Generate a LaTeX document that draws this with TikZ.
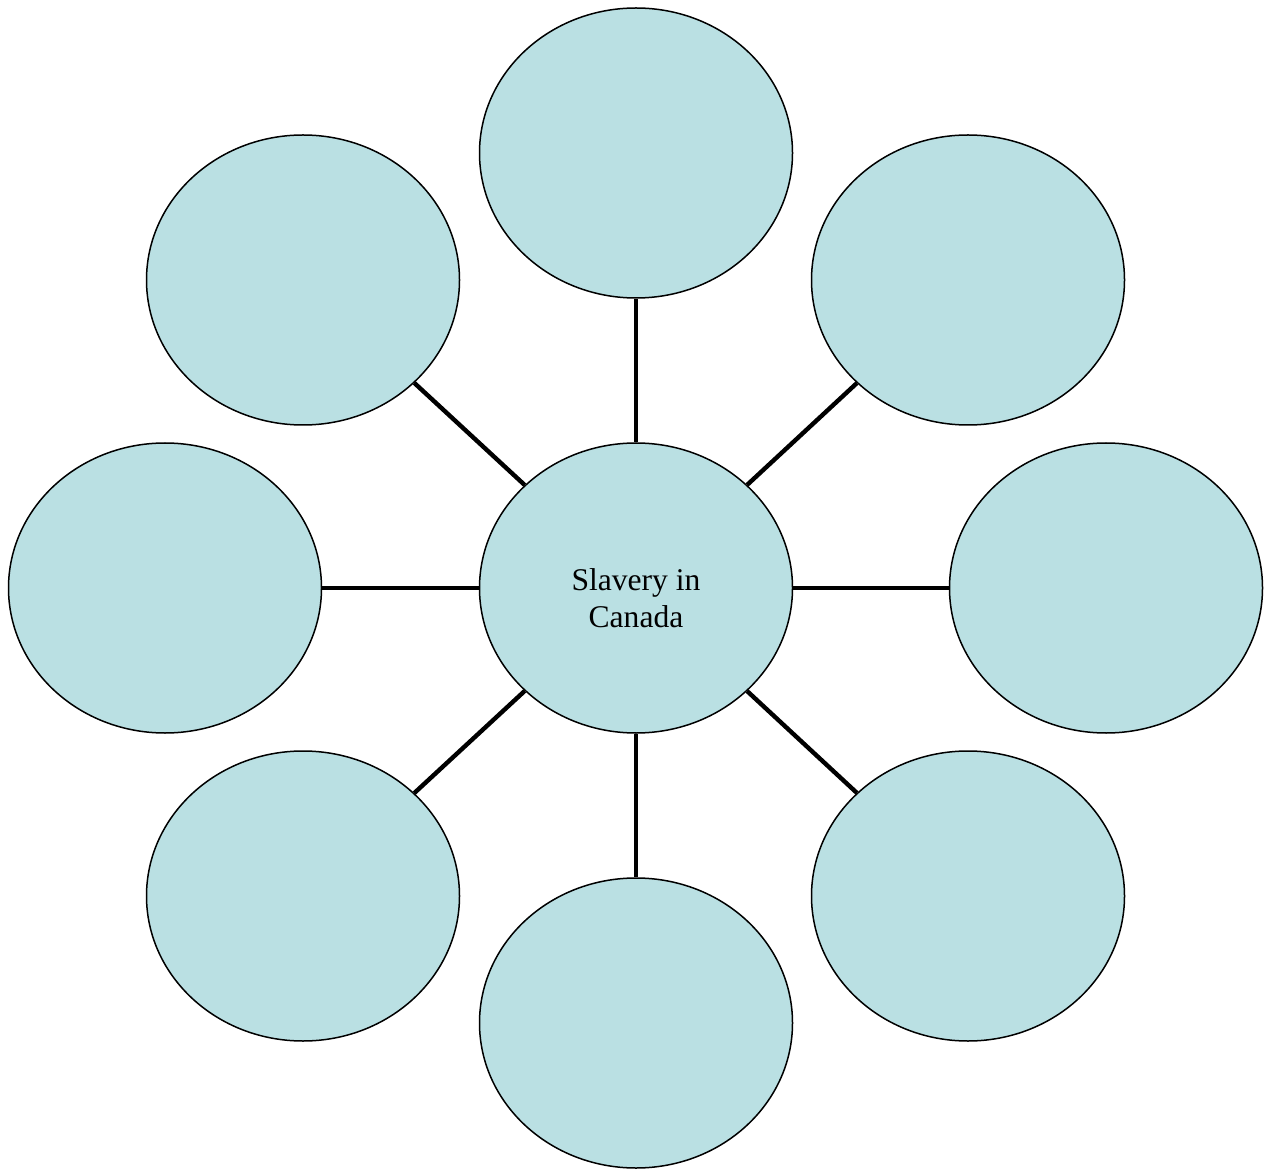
\documentclass[tikz,border=0pt]{standalone}
\usepackage{fontspec}
\setmainfont{Liberation Serif}
\usepackage{tikz}
\usetikzlibrary{shapes.geometric, positioning}

\definecolor{bubblefill}{HTML}{BAE0E3}

\begin{document}
\begin{tikzpicture}[
  x=0.5pt, y=-0.5pt,
  every node/.style={font=\fontsize{15.8}{18.5}\selectfont, align=center},
  bubble/.style={ellipse, draw, fill=bubblefill, line width=0.75pt, inner sep=0pt, minimum width=156.5pt, minimum height=145pt},
  spoke/.style={draw, line width=2.2pt}
]

\useasboundingbox (0,0) rectangle (1268,1170);

% hub
\node[bubble] (hub) at (636,588) {};
\node (hubtext) at (636,598) {Slavery in\\ Canada};

% outer bubbles
\node[bubble] (top)    at (636,153)  {};
\node[bubble] (topr)   at (968,280)  {};
\node[bubble] (right)  at (1106,588) {};
\node[bubble] (botr)   at (968,896)  {};
\node[bubble] (bot)    at (636,1023) {};
\node[bubble] (botl)   at (303,896)  {};
\node[bubble] (left)   at (165,588)  {};
\node[bubble] (topl)   at (303,280)  {};

% spokes
\foreach \b in {top, topr, right, botr, bot, botl, left, topl}
  \draw[spoke] (hub) -- (\b);

\end{tikzpicture}
\end{document}
